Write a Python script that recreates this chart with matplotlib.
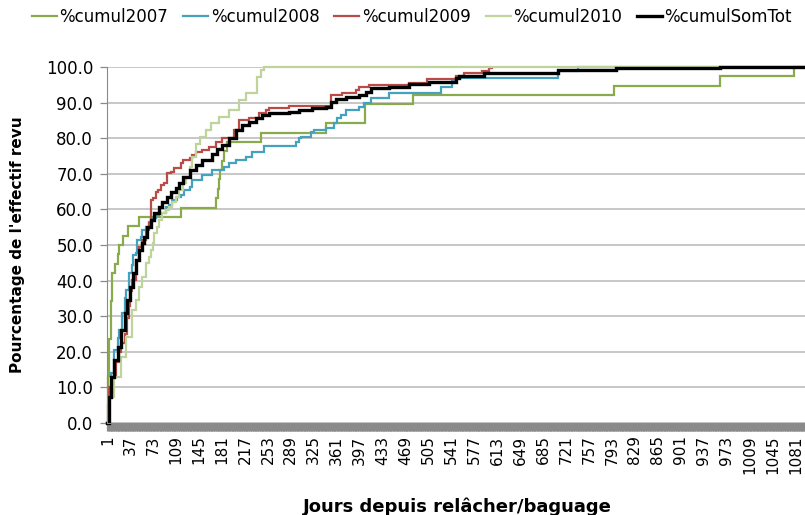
import numpy as np
import matplotlib
matplotlib.use('Agg')
import matplotlib.pyplot as plt

# days since release (category axis 1..1096), step knots
n_days = 1096
tick_days = list(range(1, 1082, 36))
y_ticks = list(range(0, 101, 10))

days_2007 = [1, 2, 4, 6, 8, 13, 17, 20, 26, 33, 51, 117, 172, 174, 176, 178, 181, 184, 189,
             242, 344, 405, 481, 797, 963, 1079, 1096]
vals_2007 = [0, 13.2, 23.7, 34.2, 42.1, 44.7, 47.4, 50.0, 52.6, 55.3, 57.9, 60.5, 63.2, 65.8,
             68.4, 71.1, 73.7, 76.3, 78.9, 81.6, 84.2, 89.5, 92.1, 94.7, 97.4, 100.0, 100.0]

days_2008 = [1, 4, 7, 12, 17, 20, 24, 28, 31, 35, 40, 42, 46, 48, 54, 56, 62, 67, 71, 78, 82,
             93, 98, 103, 111, 117, 122, 130, 134, 150, 166, 184, 192, 203, 219, 228, 247,
             297, 302, 305, 321, 325, 344, 357, 361, 368, 376, 396, 404, 415, 443, 525, 542,
             548, 708, 739, 1096]
vals_2008 = [0, 8.0, 14.0, 20.5, 24.0, 26.0, 31.0, 35.0, 37.4, 42.0, 44.4, 47.2, 47.8, 51.4,
             52.3, 54.2, 55.1, 56.5, 57.5, 58.4, 59.1, 60.8, 61.2, 62.6, 63.6, 64.0, 65.4,
             66.4, 68.3, 69.7, 71.1, 72.0, 72.9, 73.9, 74.8, 76.2, 77.8, 79.0, 80.0, 80.4,
             81.8, 82.3, 82.8, 84.2, 85.6, 86.5, 87.9, 88.8, 89.8, 91.2, 92.6, 94.5, 96.3,
             96.8, 98.9, 100.0, 100.0]

days_2009 = [1, 2, 4, 9, 15, 20, 23, 28, 32, 35, 37, 40, 46, 51, 56, 62, 67, 70, 72, 78, 80,
             86, 90, 95, 101, 106, 117, 119, 130, 134, 140, 150, 161, 172, 181, 200, 208, 224,
             239, 250, 255, 286, 352, 369, 391, 396, 412, 474, 503, 548, 561, 589, 600, 604]
vals_2009 = [0, 5.0, 10.0, 13.0, 17.0, 20.0, 22.4, 25.0, 29.4, 33.0, 37.0, 40.2, 45.8, 49.5,
             51.4, 54.2, 56.1, 62.6, 63.1, 65.0, 65.4, 66.9, 67.3, 70.1, 70.6, 71.5, 72.9,
             73.9, 74.4, 75.3, 76.2, 76.7, 77.6, 79.0, 80.0, 82.3, 85.1, 85.6, 87.0, 87.9,
             88.4, 89.0, 92.1, 92.6, 93.5, 94.5, 94.9, 95.6, 96.5, 97.5, 98.2, 99.0, 99.6, 99.6]

days_2010 = [1, 4, 12, 23, 31, 40, 46, 51, 56, 62, 67, 70, 73, 75, 79, 82, 87, 93, 98, 103,
             109, 114, 120, 125, 130, 134, 140, 147, 156, 164, 177, 192, 208, 219, 236, 242,
             247, 1096]
vals_2010 = [0, 7.4, 13.0, 18.6, 24.2, 31.7, 34.6, 38.3, 41.1, 44.9, 46.7, 48.6, 50.5, 53.3,
             55.1, 57.0, 58.9, 59.8, 60.8, 62.2, 63.6, 65.4, 67.3, 69.2, 72.0, 74.8, 78.5,
             80.4, 82.3, 84.2, 86.0, 87.9, 90.7, 92.6, 97.3, 99.2, 100.0, 100.0]

days_tot = [1, 4, 7, 12, 17, 23, 28, 32, 37, 42, 46, 51, 56, 59, 64, 70, 75, 82, 87, 95, 101,
            109, 114, 119, 130, 140, 150, 166, 173, 181, 192, 203, 213, 224, 234, 244, 255,
            286, 302, 322, 344, 352, 360, 376, 396, 407, 415, 443, 474, 506, 548, 553, 592,
            708, 799, 963, 1096]
vals_tot = [0, 7.4, 13.0, 17.7, 21.4, 26.1, 30.8, 34.6, 38.3, 42.0, 45.8, 48.6, 50.5, 52.3,
            55.1, 57.0, 58.9, 60.8, 62.2, 63.6, 65.0, 65.9, 67.5, 69.2, 71.1, 72.5, 73.9,
            75.7, 77.0, 78.1, 80.0, 82.3, 83.7, 84.6, 85.6, 86.5, 87.1, 87.4, 87.9, 88.4,
            88.9, 90.2, 90.9, 91.7, 92.1, 93.1, 94.0, 94.5, 95.2, 95.9, 96.8, 97.5, 98.2,
            99.2, 99.6, 100.0, 100.0]

series = [
    ('%cumul2007', days_2007, vals_2007, '#8AAB4C', 1.6),
    ('%cumul2008', days_2008, vals_2008, '#45A2BE', 1.6),
    ('%cumul2009', days_2009, vals_2009, '#B94B48', 1.6),
    ('%cumul2010', days_2010, vals_2010, '#BFD49B', 1.6),
    ('%cumulSomTot', days_tot, vals_tot, '#000000', 2.4),
]

fig = plt.figure(figsize=(8.05, 5.15), dpi=100)
ax = fig.add_axes([107 / 805, (515 - 423) / 515, 1 - 107 / 805, (423 - 67) / 515])

for label, d, v, col, lw in series:
    ax.step(d, v, where='post', color=col, lw=lw, label=label, clip_on=False,
            solid_joinstyle='miter')

ax.set_xlim(0.5, 1093.5)
ax.set_ylim(0, 100)
ax.set_yticks(y_ticks)
ax.set_yticklabels(['%.1f' % t for t in y_ticks], fontsize=12)
ax.set_xticks(tick_days)
ax.set_xticklabels([str(t) for t in tick_days], rotation=90, fontsize=11)
ax.set_xticks(np.arange(1, n_days + 1), minor=True)

ax.grid(axis='y', color='#B8B8B8', lw=1.1)
ax.set_axisbelow(True)
ax.tick_params(axis='x', which='both', length=6, width=0.9, color='#8A8A8A', pad=3)
ax.tick_params(axis='y', length=5, width=0.9, color='#8A8A8A', pad=5)
for side in ['top', 'right']:
    ax.spines[side].set_visible(False)
ax.spines['left'].set_color('#8A8A8A')
ax.spines['bottom'].set_color('#8A8A8A')

ax.set_xlabel('Jours depuis relâcher/baguage', fontsize=13, fontweight='bold')
ax.xaxis.set_label_coords((457 - 107) / 698, (423 - 497) / 356)
ax.set_ylabel("Pourcentage de l'effectif revu", fontsize=11, fontweight='bold')
ax.yaxis.set_label_coords((25 - 107) / 698, 0.5)

fig.legend(loc='center', bbox_to_anchor=(412 / 805, 1 - 17 / 515), ncol=5, frameon=False,
           fontsize=12, handlelength=1.5, handletextpad=0.15, columnspacing=0.9)

fig.savefig('out.png', dpi=100)
